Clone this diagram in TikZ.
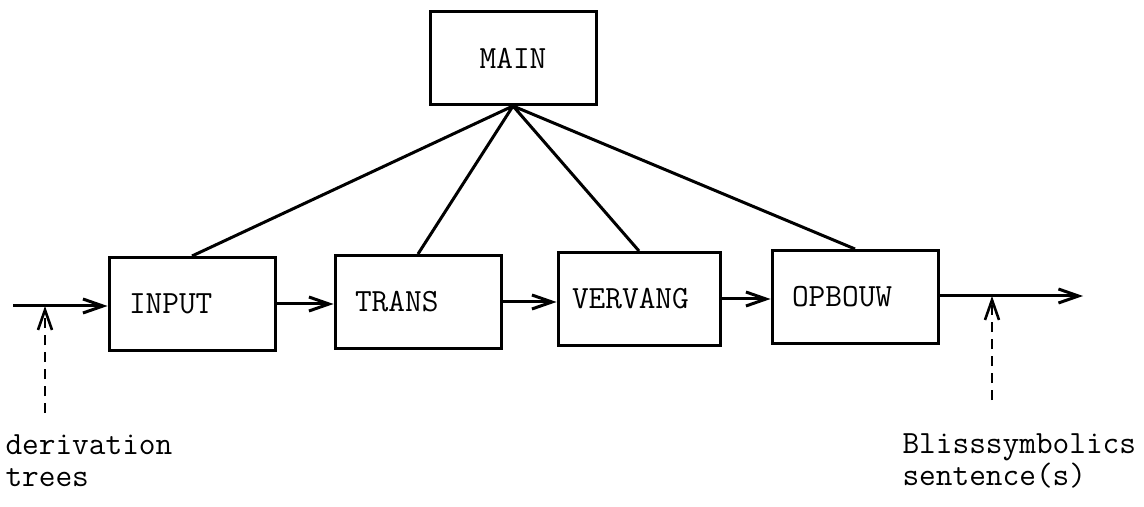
\documentclass[tikz,border=0pt]{standalone}
\usepackage{fontspec}
\usetikzlibrary{arrows.meta}

\begin{document}
\begin{tikzpicture}[x=0.5pt, y=-0.5pt, line width=1.5pt,
  font=\ttfamily\fontsize{16.2pt}{16pt}\selectfont,
  >={Straight Barb[length=10pt,width=7pt]},
  module/.style={draw, minimum height=46.5pt, text width=63pt, inner xsep=10pt, align=left},
  hint/.style={->, line width=1.3pt, dash pattern=on 5pt off 3.5pt}]
\useasboundingbox (0,0) rectangle (1144,507);

\node[draw, minimum width=83pt, minimum height=46.5pt] (main) at (513,58) {MAIN};
\node[module] (input) at (192,304) {INPUT};
\node[module] (trans) at (418,302) {TRANS};
\node[module, inner xsep=7pt, text width=67pt] (vervang) at (639,299) {VERVANG};
\node[module] (opbouw) at (855,297) {OPBOUW};

\node[anchor=west, align=left, inner sep=0pt] (trees) at (4,461) {derivation\\trees};
\node[anchor=west, align=left, inner sep=0pt] (sentence) at (901,461) {Blisssymbolics\\sentence(s)};

% flow through the modules
\coordinate (in) at (13,306);
\coordinate (out) at (1083,296);
\draw[->] (in) -- (in -| input.west);
\draw[->] (input.east) -- (input.east -| trans.west);
\draw[->] (trans.east) -- (trans.east -| vervang.west);
\draw[->] (vervang.east) -- (vervang.east -| opbouw.west);
\draw[->] (opbouw.east |- out) -- (out);

% MAIN calls each module
\draw (main.south) -- (input.north)
      (main.south) -- (trans.north)
      (main.south) -- (vervang.north)
      (main.south) -- (opbouw.north);

% what goes in and comes out
\coordinate (treesfoot) at (45,413);
\coordinate (sentfoot) at (992,400);
\draw[hint] (treesfoot) -- (treesfoot |- in);
\draw[hint] (sentfoot) -- (sentfoot |- out);
\end{tikzpicture}
\end{document}
